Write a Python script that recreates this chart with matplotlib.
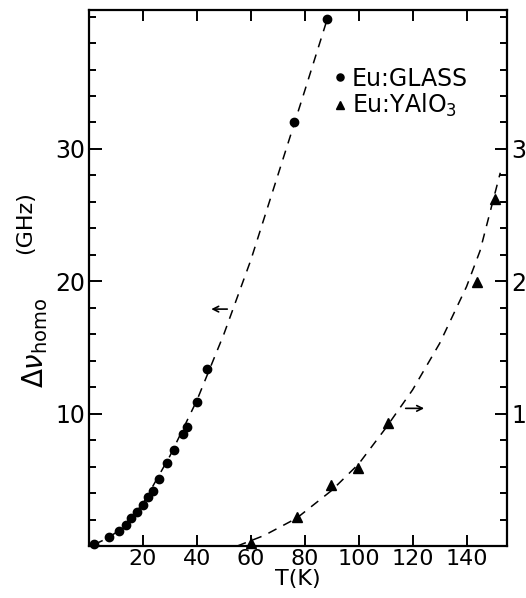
import numpy as np
import matplotlib.pyplot as plt

# Eu:GLASS (left axis)
glass_T = [2.0, 7.3, 11.0, 13.8, 15.7, 17.8, 19.9, 21.7, 23.6, 26.1, 28.9, 31.7,
           34.8, 36.4, 40.1, 43.7, 76.1, 88.4]
glass_dv = [0.12, 0.68, 1.13, 1.61, 2.09, 2.57, 3.12, 3.70, 4.18, 5.06, 6.24, 7.25,
            8.44, 9.02, 10.88, 13.4, 32.04, 39.85]

# Eu:YAlO3 (right axis)
yal_T = [59.9, 77.3, 89.7, 99.7, 111.0, 143.9, 150.7]
yal_dv = [0.25, 2.19, 4.63, 5.92, 9.32, 19.95, 26.25]

# dashed guide curves
glass_fit_T = [2.0, 7.0, 12.0, 20.0, 30.0, 40.0, 50.0, 60.0, 70.0, 80.0, 88.4]
glass_fit_dv = [0.12, 0.6, 1.3, 3.2, 6.8, 11.0, 16.0, 21.6, 28.0, 34.4, 39.85]
yal_fit_T = [55.0, 65.0, 77.0, 90.0, 100.0, 110.0, 120.0, 130.0, 140.0, 145.0, 152.5]
yal_fit_dv = [0.0, 0.8, 2.1, 4.2, 6.2, 8.9, 11.8, 15.3, 19.6, 22.3, 28.2]

# axis-pointing arrows (tail, head)
left_arrow = [(52.3, 17.9), (44.3, 17.9)]
right_arrow = [(116.4, 10.4), (125.3, 10.4)]

x_ticks = [20, 40, 60, 80, 100, 120, 140]
y_ticks = [10, 20, 30]

plt.rcParams['font.family'] = ['DejaVu Sans']
plt.rcParams['mathtext.fontset'] = 'dejavusans'

fig = plt.figure(figsize=(5.26, 5.98), dpi=100)
ax = fig.add_axes([89 / 526, 52 / 598, 418 / 526, 536 / 598])

ax.plot(glass_fit_T, glass_fit_dv, color='black', lw=1.1, ls=(0, (6, 5)))
ax.plot(yal_fit_T, yal_fit_dv, color='black', lw=1.1, ls=(0, (6, 5)))
ax.plot(glass_T, glass_dv, 'o', color='black', ms=6, label='Eu:GLASS', clip_on=False)
ax.plot(yal_T, yal_dv, '^', color='black', ms=6.5, label='Eu:YAlO$_3$', clip_on=False)

for tail, head in [left_arrow, right_arrow]:
    ax.annotate('', xy=head, xytext=tail,
                arrowprops=dict(arrowstyle='->', color='black', lw=1.2))

ax.set_xlim(0, 155)
ax.set_ylim(0, 40.5)

ax.set_xticks(x_ticks)
ax.set_xticklabels([str(v) for v in x_ticks])
ax.set_yticks(y_ticks)
ax.set_yticklabels([str(v) for v in y_ticks])
ax.set_yticks(np.arange(0, 41, 2), minor=True)

ax.tick_params(axis='both', which='both', direction='in', width=1.4,
               top=True, right=True, labelright=True, labelsize=17, colors='black')
ax.tick_params(axis='y', which='major', length=9, pad=3)
ax.tick_params(axis='y', which='minor', length=5)
ax.tick_params(axis='x', which='major', length=8, pad=2, labelsize=16)

for s in ax.spines.values():
    s.set_linewidth(1.6)
    s.set_color('black')

ax.set_xlabel('T(K)', fontsize=16, labelpad=0)

fig.text(0.066, 0.426, r'$\Delta\nu_{\mathrm{homo}}$', rotation=90,
         ha='center', va='center', fontsize=20)
fig.text(0.047, 0.628, '(GHz)', rotation=90, ha='center', va='center', fontsize=16)

ax.legend(loc='upper left', bbox_to_anchor=(0.55, 0.925), frameon=False,
          fontsize=17, handlelength=0.4, handletextpad=0.3, labelspacing=0.05,
          borderpad=0.2, markerscale=0.85)

plt.savefig('out.png', dpi=100)
plt.close(fig)
